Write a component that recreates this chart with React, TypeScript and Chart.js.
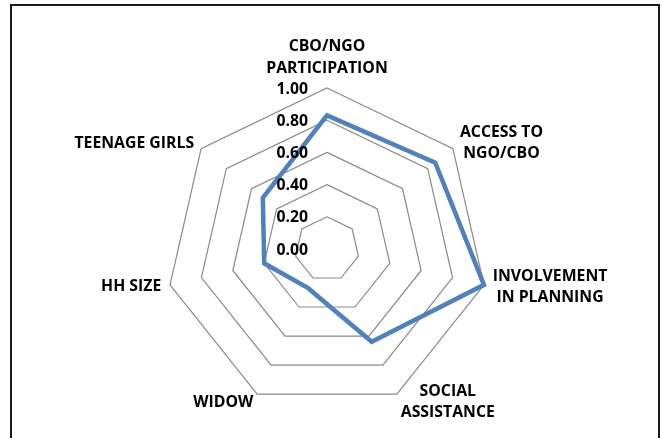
import React, { useEffect, useRef } from "react";
import { Chart, registerables } from "chart.js";

Chart.register(...registerables);

const categories: string[][] = [
  ["CBO/NGO", "PARTICIPATION"],
  ["ACCESS TO", "NGO/CBO"],
  ["INVOLVEMENT", "IN PLANNING"],
  ["SOCIAL", "ASSISTANCE"],
  ["WIDOW"],
  ["HH SIZE"],
  ["TEENAGE GIRLS"],
];
const seriesValues: number[] = [0.83, 0.86, 1.0, 0.64, 0.27, 0.4, 0.51];
const tickValues: number[] = [0, 0.2, 0.4, 0.6, 0.8, 1.0];
const tickLabels: string[] = ["0.00", "0.20", "0.40", "0.60", "0.80", "1.00"];

const FONT = "bold 15.8px 'Open Sans'";

const labelPlugin = {
  id: "excelLabels",
  afterDraw(chart: any) {
    const scale = chart.scales.r;
    const ctx = chart.ctx as CanvasRenderingContext2D;
    ctx.save();
    ctx.font = FONT;
    ctx.fillStyle = "#000";
    // tick labels
    ctx.textAlign = "right";
    ctx.textBaseline = "middle";
    tickValues.forEach((v, i) => {
      const d = scale.getDistanceFromCenterForValue(v);
      ctx.fillText(tickLabels[i], scale.xCenter - 19, scale.yCenter - d + 1);
    });
    // point labels
    const lineH = 21.5;
    const n = categories.length;
    categories.forEach((lines, i) => {
      const p = scale.getPointPosition(i, scale.drawingArea + 9);
      const widths = lines.map((l) => ctx.measureText(l).width);
      const bw = Math.max(...widths);
      const bh = lines.length * lineH;
      let left: number;
      let top: number;
      const frac = i / n;
      if (i === 0) {
        left = p.x - bw / 2;
        top = p.y - bh;
      } else if (frac < 0.5) {
        left = p.x;
        top = p.y - bh / 2;
      } else {
        left = p.x - bw;
        top = p.y - bh / 2;
      }
      ctx.textAlign = "center";
      ctx.textBaseline = "middle";
      lines.forEach((l, j) => {
        ctx.fillText(l, left + bw / 2, top + lineH * j + lineH / 2);
      });
    });
    ctx.restore();
  },
};

export default function App() {
  const ref = useRef<HTMLCanvasElement | null>(null);
  useEffect(() => {
    if (!ref.current) return;
    const chart = new Chart(ref.current, {
      type: "radar",
      data: {
        labels: categories.map((c) => c.join(" ")),
        datasets: [
          {
            data: seriesValues,
            borderColor: "#4F81BD",
            borderWidth: 4.5,
            fill: false,
            pointRadius: 0,
            pointHoverRadius: 0,
            tension: 0,
            borderJoinStyle: "miter",
          },
        ],
      },
      options: {
        animation: false,
        responsive: false,
        layout: { padding: { left: 166, right: 174, top: 88, bottom: 28 } },
        plugins: { legend: { display: false }, tooltip: { enabled: false } },
        scales: {
          r: {
            min: 0,
            max: 1,
            ticks: { display: false, stepSize: 0.2 },
            grid: { color: "#8a8a8a", lineWidth: 1.2 },
            angleLines: { display: false },
            pointLabels: { display: false },
          },
        },
      },
      plugins: [labelPlugin],
    });
    return () => chart.destroy();
  }, []);
  return (
    <div style={{ position: "absolute", left: 0, top: 0, width: 662, height: 438, overflow: "hidden", background: "#fff" }}>
      <div
        style={{
          position: "absolute",
          left: 10,
          top: 4,
          width: 646,
          height: 450,
          border: "2px solid #1a1a1a",
        }}
      />
      <canvas ref={ref} width={662} height={438} style={{ position: "absolute", left: 0, top: 0 }} />
    </div>
  );
}
